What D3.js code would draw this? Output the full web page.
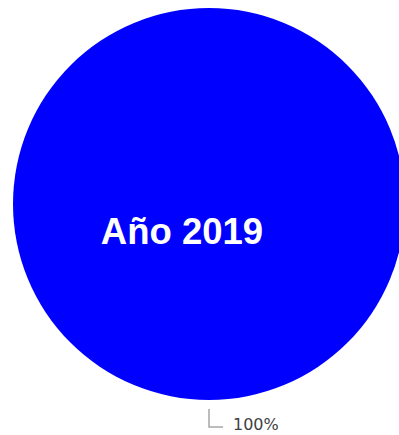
<!DOCTYPE html>
<html>
<head>
<meta charset="utf-8">
<script src="https://cdn.jsdelivr.net/npm/d3@7"></script>
<style>
  body { margin: 0; background: #fff; }
</style>
</head>
<body>
<div id="chart"></div>
<script>
// chart data
var categories = ["Año 2019"];
var values = [100];
var pctLabels = ["100%"];

var width = 399, height = 435;
var cx = 209, cy = 204, radius = 196;

var svg = d3.select("#chart")
    .append("svg")
    .attr("width", width)
    .attr("height", height);

var g = svg.append("g")
    .attr("transform", "translate(" + cx + "," + cy + ")");

var pie = d3.pie().sort(null).startAngle(Math.PI).endAngle(3 * Math.PI);
var arcs = pie(values);

var arc = d3.arc().innerRadius(0).outerRadius(radius);

// slices
g.selectAll("path.slice")
    .data(arcs)
    .enter()
    .append("path")
    .attr("class", "slice")
    .attr("d", arc)
    .attr("fill", "#0000ff");

// category text inside the slice
g.selectAll("text.cat")
    .data(arcs)
    .enter()
    .append("text")
    .attr("class", "cat")
    .attr("x", -27)
    .attr("y", 40)
    .attr("text-anchor", "middle")
    .style("font-family", "Arial, 'Liberation Sans', sans-serif")
    .style("font-weight", "bold")
    .style("font-size", "36.5px")
    .style("fill", "#fff")
    .text(function (d, i) { return categories[i]; });

// leader line + percent label, from the slice start point (bottom)
var lead = g.selectAll("g.lead")
    .data(arcs)
    .enter()
    .append("g")
    .attr("class", "lead");

lead.append("path")
    .attr("d", function (d) {
        var a = d.startAngle;
        var x0 = Math.sin(a) * (radius + 9), y0 = -Math.cos(a) * (radius + 9);
        return "M" + x0 + "," + y0 + "L" + x0 + "," + (y0 + 18) + "L" + (x0 + 14) + "," + (y0 + 18);
    })
    .attr("fill", "none")
    .attr("stroke", "#a6a6a6")
    .attr("stroke-width", 1.5);

lead.append("text")
    .attr("x", function (d) { return Math.sin(d.startAngle) * (radius + 9) + 24; })
    .attr("y", function (d) { return -Math.cos(d.startAngle) * (radius + 9) + 21; })
    .style("font-family", "'DejaVu Sans', Verdana, sans-serif")
    .style("font-size", "16px")
    .style("fill", "#404040")
    .text(function (d, i) { return pctLabels[i]; });
</script>
</body>
</html>
